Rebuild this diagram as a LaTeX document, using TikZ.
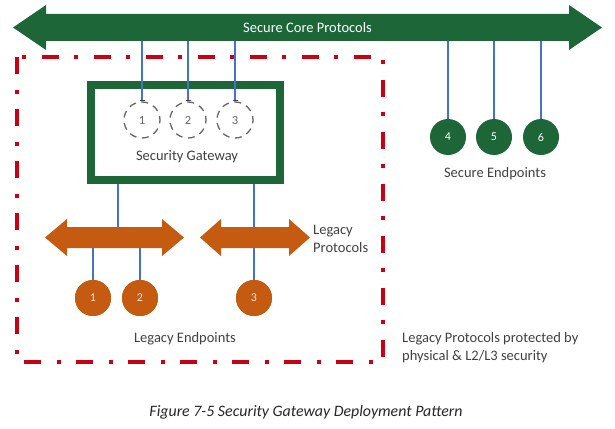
\documentclass[tikz,border=0pt]{standalone}
\usepackage{fontspec}
\setmainfont{Carlito}
\usetikzlibrary{arrows.meta}
\definecolor{sgreen}{RGB}{28,102,56}
\definecolor{lorange}{RGB}{197,90,17}
\definecolor{lblue}{RGB}{68,114,196}
\definecolor{bred}{RGB}{200,0,20}
\definecolor{tgray}{RGB}{64,64,64}
\newcommand\mydblarrow[8]{%
  \fill[#7] (#1,#3) -- ({#1+#6},{#3-#4}) -- ({#1+#6},{#3-#5}) -- ({#2-#6},{#3-#5}) -- ({#2-#6},{#3-#4}) -- (#2,#3)
   -- ({#2-#6},{#3+#4}) -- ({#2-#6},{#3+#5}) -- ({#1+#6},{#3+#5}) -- ({#1+#6},{#3+#4}) -- cycle;
  \coordinate (#8) at ({(#1+#2)/2},#3);
  \coordinate (#8N) at ({(#1+#2)/2},{#3-#5});
  \coordinate (#8S) at ({(#1+#2)/2},{#3+#5});}
\begin{document}
\begin{tikzpicture}[x=1pt,y=-1pt,
  lbl/.style={text=tgray,font=\fontsize{14.5}{17.5}\selectfont,inner sep=0pt},
  blueline/.style={draw=lblue,line width=2pt},
  gwport/.style={circle,draw=tgray!80,dash pattern=on 7pt off 5.5pt,dash phase=3pt,line width=1.3pt,minimum size=36pt,inner sep=0pt,text=tgray!80,font=\fontsize{12.5}{12.5}\selectfont},
  secep/.style={circle,fill=sgreen,minimum size=36pt,inner sep=0pt,text=white,font=\fontsize{12}{12}\selectfont},
  legep/.style={circle,fill=lorange,minimum size=36pt,inner sep=0pt,text=white!85!lorange,font=\fontsize{12}{12}\selectfont},
  zone/.style={draw=bred,line width=4pt,dash pattern=on 17pt off 16pt on 4pt off 15pt},
  gwbox/.style={draw=sgreen,line width=7.5pt,minimum width=189pt,minimum height=95pt,inner sep=0pt}]
\useasboundingbox (0,0) rectangle (615,428);
% protected zone
\draw[zone] (17,57) rectangle (383,362);
% gateway
\node[gwbox] (gw) at (185.5,132.5) {};
\node[lbl] (gwt) at (187,157) {Security Gateway};
\node[gwport] (g1) at (142,120) {1};
\node[gwport] (g2) at (188,120) {2};
\node[gwport] (g3) at (235,120) {3};
% secure endpoints
\node[secep] (s4) at (448,137) {4};
\node[secep] (s5) at (494,137) {5};
\node[secep] (s6) at (541,137) {6};
% legacy endpoints
\node[legep] (e1) at (93,298) {1};
\node[legep] (e2) at (140,298) {2};
\node[legep] (e3) at (254,298) {3};
% core arrow
\mydblarrow{13}{602}{27.5}{22.5}{13.5}{33}{sgreen}{core}
\node[inner sep=0pt,text=white,font=\fontsize{14.5}{14.5}\selectfont] (coret) at (core) {Secure Core Protocols};
% blue links to core
\foreach \n in {g1,g2,g3}
  \draw[blueline,-{Bar[width=5pt,line width=1pt,color=tgray]}] (coreS -| \n) -- (\n.north);
\foreach \n in {s4,s5,s6}
  \draw[blueline] (coreS -| \n) -- (\n.north);
% legacy links (behind arrows)
\coordinate (la) at (114.5,237.5);
\draw[blueline] ([xshift=-67.5pt]gw.south) -- ([xshift=-67.5pt]gw.south |- la);
\draw[blueline] (gw.south -| e3) -- (e3.north);
\draw[blueline] (la -| e1) -- (e1.north);
\draw[blueline] (la -| e2) -- (e2.north);
% legacy arrows
\mydblarrow{45}{184}{237.5}{18.5}{10.5}{22}{lorange}{lpa}
\mydblarrow{200}{310}{237.5}{18.5}{10.5}{21}{lorange}{lpb}
% redraw endpoint circles on top
\node[legep] at (e1) {1};
\node[legep] at (e2) {2};
\node[legep] at (e3) {3};
% labels
\node[lbl,anchor=west,align=left] (lpt) at (313,239) {Legacy\\Protocols};
\node[lbl] (let) at (185,339) {Legacy Endpoints};
\node[lbl] (set) at (495,174) {Secure Endpoints};
\node[lbl,anchor=west,align=left,font=\fontsize{14.5}{18}\selectfont] (pt) at (402,348) {Legacy Protocols protected by\\physical \& L2/L3 security};
\node[lbl,text=black!85,font=\fontsize{15.9}{17}\itshape] (cap) at (306,412) {Figure 7-5 Security Gateway Deployment Pattern};
\end{tikzpicture}
\end{document}
